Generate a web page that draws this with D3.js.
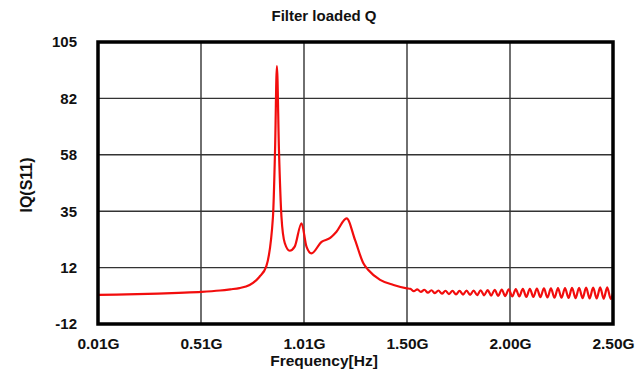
<!DOCTYPE html>
<html>
<head>
<meta charset="utf-8">
<script src="https://cdn.jsdelivr.net/npm/d3@7"></script>
<style>
  html, body { margin: 0; padding: 0; background: #fff; }
  svg { display: block; }
  text { font-family: "Liberation Sans", Arial, sans-serif; font-weight: bold; fill: #111; }
</style>
</head>
<body>
<svg id="chart" width="637" height="371"></svg>
<script>
// ---- data (frequency in GHz, loaded Q) ----
const freq = [
  0.01, 0.10, 0.20, 0.30, 0.40, 0.51, 0.60, 0.65, 0.694, 0.743, 0.79, 0.824, 0.856, 0.866, 0.875,
  0.885, 0.897, 0.913, 0.937, 0.961, 0.994, 1.018, 1.042, 1.091, 1.131, 1.163, 1.212,
  1.253, 1.293, 1.317, 1.374, 1.439, 1.503,
  1.520, 1.537, 1.554, 1.571, 1.588, 1.605, 1.622, 1.639, 1.656, 1.673,
  1.690, 1.707, 1.724, 1.741, 1.758, 1.775, 1.792, 1.809, 1.826, 1.843,
  1.860, 1.877, 1.894, 1.911, 1.928, 1.945, 1.962, 1.979, 1.996, 2.013,
  2.030, 2.047, 2.064, 2.081, 2.098, 2.115, 2.132, 2.149, 2.166, 2.183,
  2.200, 2.217, 2.234, 2.251, 2.268, 2.285, 2.302, 2.319, 2.336, 2.353,
  2.370, 2.387, 2.404, 2.421, 2.438, 2.455, 2.472, 2.489, 2.500
];
const qValues = [
  0.1, 0.2, 0.4, 0.6, 0.9, 1.3, 1.9, 2.4, 2.9, 4.2, 7.5, 12.0, 32.5, 60.0, 95.0,
  60.0, 32.5, 21.6, 18.4, 20.1, 29.8, 20.1, 17.3, 22.1, 23.6, 26.3, 31.8,
  22.8, 13.2, 10.4, 6.3, 4.2, 2.8,
  2.6, 1.6, 2.4, 1.3, 2.2, 1.0, 2.0, 0.8, 1.9, 0.6,
  1.8, 0.4, 1.8, 0.3, 1.8, 0.2, 1.9, 0.1, 1.9, 0.0,
  2.0, -0.1, 2.1, -0.2, 2.2, -0.3, 2.3, -0.4, 2.4, -0.6,
  2.5, -0.6, 2.6, -0.8, 2.6, -0.8, 2.7, -0.9, 2.8, -1.0,
  2.8, -1.1, 2.9, -1.1, 2.9, -1.2, 3.0, -1.3, 3.0, -1.3,
  3.1, -1.4, 3.1, -1.4, 3.2, -1.5, 3.2, -1.6, 1.0
];
const xTickValues = [0.01, 0.508, 1.006, 1.504, 2.002, 2.50];
const xTickLabels = ["0.01G", "0.51G", "1.01G", "1.50G", "2.00G", "2.50G"];
const yTickValues = [-12, 11.4, 34.8, 58.2, 81.6, 105];
const yTickLabels = ["-12", "12", "35", "58", "82", "105"];
const titleText = "Filter loaded Q";
const xTitle = "Frequency[Hz]";
const yTitle = "IQ(S11)";

// ---- layout ----
const pLeft = 98, pRight = 613, pTop = 42, pBottom = 324;
const svg = d3.select("#chart");

const x = d3.scaleLinear().domain([0.01, 2.5]).range([pLeft, pRight]);
const y = d3.scaleLinear().domain([-12, 105]).range([pBottom, pTop]);

// grid
const grid = svg.append("g");
grid.selectAll("line.v").data(xTickValues.slice(1, -1)).enter().append("line")
  .attr("x1", d => x(d)).attr("x2", d => x(d))
  .attr("y1", pTop).attr("y2", pBottom)
  .attr("stroke", "#333").attr("stroke-width", 1.4);
grid.selectAll("line.h").data(yTickValues.slice(1, -1)).enter().append("line")
  .attr("y1", d => y(d)).attr("y2", d => y(d))
  .attr("x1", pLeft).attr("x2", pRight)
  .attr("stroke", "#333").attr("stroke-width", 1.4);

// line
const pts = freq.map((f, i) => [f, qValues[i]]);
svg.append("path").datum(pts)
  .attr("fill", "none")
  .attr("stroke", "#f20d0d")
  .attr("stroke-width", 2.2)
  .attr("stroke-linejoin", "round")
  .attr("d", d3.line().x(d => x(d[0])).y(d => y(d[1])).curve(d3.curveMonotoneX));

// frame
svg.append("rect")
  .attr("x", pLeft).attr("y", pTop)
  .attr("width", pRight - pLeft).attr("height", pBottom - pTop)
  .attr("fill", "none").attr("stroke", "#000").attr("stroke-width", 3.5);

// axes
const xAxis = d3.axisBottom(x).tickValues(xTickValues)
  .tickFormat((d, i) => xTickLabels[i]).tickSize(0).tickPadding(14);
const gx = svg.append("g").attr("transform", `translate(0,${pBottom})`).call(xAxis);
gx.select(".domain").remove();
gx.selectAll("text").style("font-size", "15.5px").style("font-family", "'Liberation Sans', Arial, sans-serif").style("font-weight", "bold").attr("fill", "#111");

const yAxis = d3.axisLeft(y).tickValues(yTickValues)
  .tickFormat((d, i) => yTickLabels[i]).tickSize(0).tickPadding(21);
const gy = svg.append("g").attr("transform", `translate(${pLeft},0)`).call(yAxis);
gy.select(".domain").remove();
gy.selectAll("text").style("font-size", "15px").style("font-family", "'Liberation Sans', Arial, sans-serif").style("font-weight", "bold").attr("fill", "#111");

// titles
svg.append("text").attr("x", 324).attr("y", 21).attr("text-anchor", "middle")
  .style("font-size", "15px").text(titleText);
svg.append("text").attr("x", 324).attr("y", 366).attr("text-anchor", "middle")
  .style("font-size", "15.5px").text(xTitle);
svg.append("text").attr("transform", "translate(32,185) rotate(-90)")
  .attr("text-anchor", "middle").style("font-size", "16px").text(yTitle);
</script>
</body>
</html>
